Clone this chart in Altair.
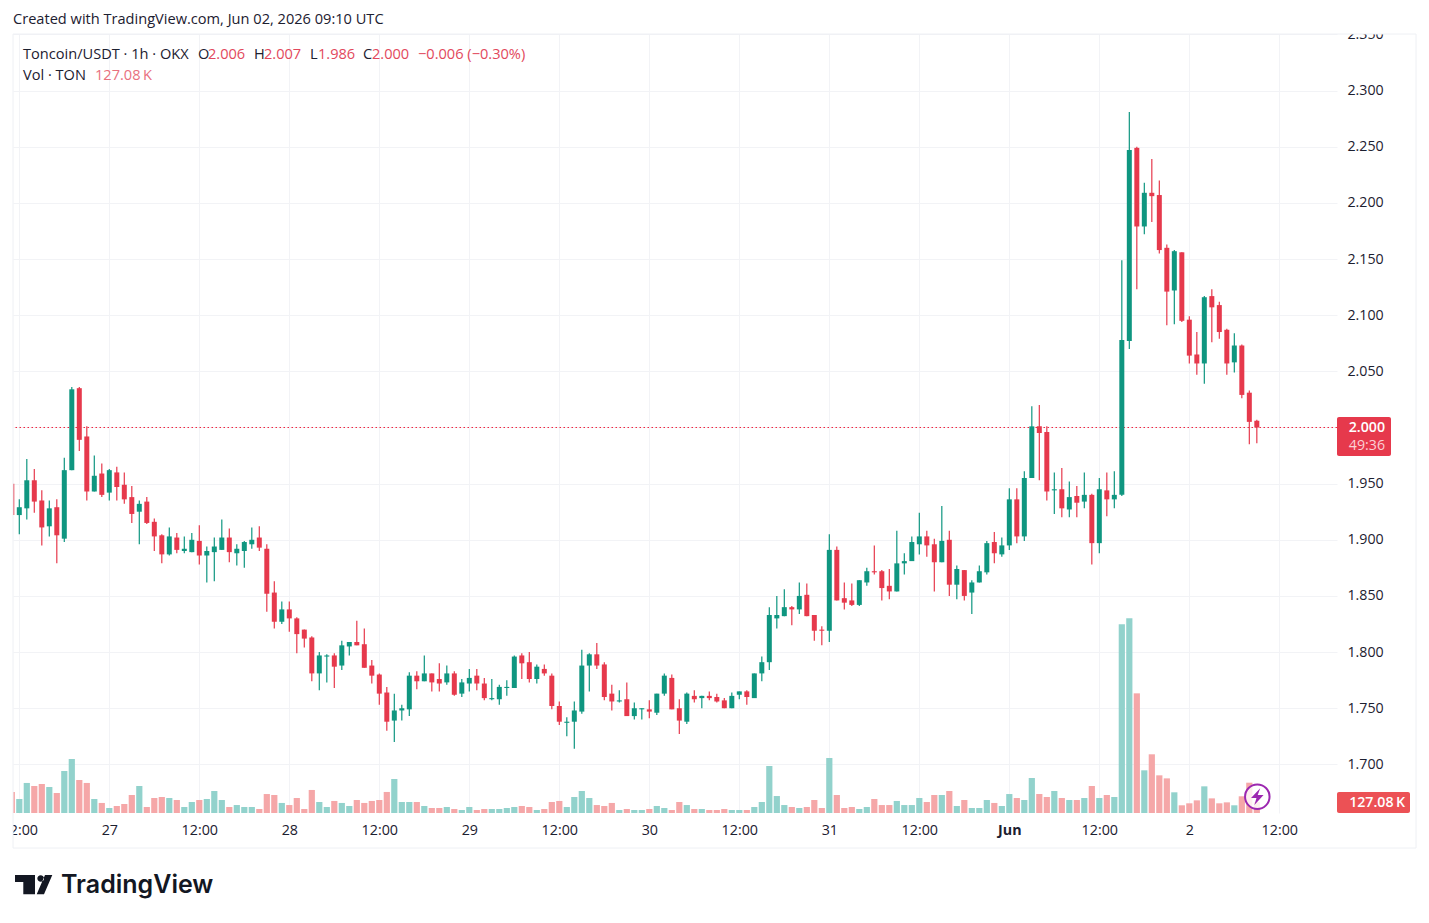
import altair as alt
import pandas as pd

# ---- chart values (hours counted from 27 May 00:00) ----
opens = [
1.950,1.922,1.928,1.953,1.935,1.912,1.929,1.901,1.962,2.035,
1.992,1.943,1.959,1.942,1.960,1.949,1.938,1.925,1.934,1.916,
1.904,1.887,1.902,1.890,1.889,1.899,1.886,1.889,1.891,1.902,
1.888,1.890,1.896,1.902,1.892,1.853,1.827,1.838,1.830,1.820,
1.813,1.781,1.796,1.797,1.788,1.805,1.809,1.807,1.788,1.780,
1.764,1.739,1.748,1.749,1.779,1.774,1.781,1.776,1.773,1.781,
1.763,1.772,1.779,1.772,1.758,1.758,1.768,1.768,1.797,1.791,
1.776,1.785,1.779,1.752,1.737,1.738,1.747,1.788,1.798,1.789,
1.763,1.756,1.758,1.743,1.749,1.749,1.746,1.763,1.777,1.750,
1.738,1.761,1.759,1.761,1.760,1.757,1.750,1.762,1.765,1.759,
1.781,1.791,1.830,1.832,1.840,1.838,1.851,1.833,1.820,1.819,
1.891,1.848,1.846,1.842,1.862,1.872,1.872,1.859,1.854,1.879,
1.881,1.896,1.903,1.896,1.880,1.900,1.860,1.873,1.853,1.862,
1.871,1.898,1.887,1.895,1.936,1.903,1.955,2.001,1.996,1.944,
1.945,1.927,1.939,1.934,1.940,1.897,1.944,1.936,1.940,2.077,
2.249,2.179,2.209,2.207,2.160,2.122,2.156,2.096,2.065,2.057,
2.117,2.109,2.087,2.058,2.073,2.031,2.006]
highs = [
1.951,1.936,1.972,1.963,1.944,1.935,1.936,1.973,2.036,2.036,
2.001,1.975,1.968,1.963,1.965,1.960,1.948,1.935,1.938,1.919,
1.905,1.911,1.906,1.903,1.906,1.913,1.894,1.902,1.918,1.910,
1.896,1.899,1.911,1.912,1.896,1.863,1.845,1.845,1.831,1.820,
1.814,1.800,1.798,1.799,1.810,1.809,1.828,1.821,1.793,1.781,
1.769,1.763,1.753,1.782,1.783,1.797,1.781,1.790,1.788,1.783,
1.776,1.785,1.785,1.777,1.776,1.771,1.775,1.797,1.799,1.800,
1.789,1.789,1.781,1.756,1.742,1.756,1.802,1.799,1.808,1.791,
1.771,1.766,1.773,1.755,1.750,1.757,1.763,1.781,1.780,1.758,
1.764,1.766,1.761,1.765,1.763,1.759,1.764,1.765,1.766,1.781,
1.796,1.840,1.850,1.856,1.841,1.862,1.861,1.833,1.823,1.905,
1.894,1.862,1.861,1.864,1.875,1.895,1.873,1.874,1.908,1.888,
1.903,1.924,1.908,1.901,1.930,1.908,1.877,1.873,1.864,1.877,
1.899,1.907,1.902,1.946,1.946,1.961,2.019,2.020,2.001,1.960,
1.964,1.952,1.948,1.960,1.941,1.955,1.960,1.961,2.149,2.281,
2.250,2.218,2.239,2.220,2.163,2.158,2.156,2.099,2.085,2.117,
2.123,2.112,2.088,2.084,2.074,2.033,2.007]
lows = [
1.922,1.905,1.918,1.924,1.895,1.903,1.879,1.898,1.962,1.979,
1.935,1.943,1.938,1.935,1.935,1.932,1.915,1.896,1.914,1.890,
1.879,1.886,1.888,1.888,1.889,1.878,1.862,1.863,1.891,1.880,
1.877,1.875,1.892,1.890,1.836,1.821,1.825,1.818,1.799,1.804,
1.774,1.766,1.773,1.768,1.784,1.797,1.806,1.786,1.772,1.753,
1.730,1.720,1.739,1.743,1.767,1.774,1.765,1.765,1.771,1.761,
1.760,1.765,1.766,1.757,1.757,1.753,1.761,1.768,1.776,1.773,
1.772,1.779,1.749,1.735,1.725,1.714,1.745,1.765,1.785,1.757,
1.748,1.755,1.743,1.740,1.740,1.741,1.744,1.761,1.749,1.727,
1.736,1.755,1.750,1.757,1.755,1.750,1.750,1.758,1.753,1.759,
1.774,1.784,1.821,1.832,1.824,1.834,1.832,1.810,1.806,1.809,
1.846,1.838,1.841,1.841,1.859,1.869,1.846,1.847,1.854,1.869,
1.881,1.887,1.885,1.854,1.880,1.850,1.847,1.846,1.834,1.862,
1.869,1.879,1.885,1.891,1.897,1.899,1.955,1.953,1.935,1.923,
1.920,1.920,1.920,1.928,1.878,1.888,1.921,1.928,1.939,2.070,
2.123,2.172,2.183,2.155,2.091,2.092,2.094,2.057,2.047,2.039,
2.076,2.079,2.047,2.049,2.026,1.985,1.986]
closes = [
1.922,1.929,1.953,1.934,1.911,1.928,1.904,1.962,2.034,1.989,
1.943,1.957,1.940,1.962,1.947,1.936,1.923,1.932,1.915,1.903,
1.887,1.903,1.891,1.892,1.900,1.886,1.890,1.894,1.902,1.889,
1.892,1.898,1.900,1.893,1.852,1.827,1.838,1.830,1.816,1.812,
1.781,1.797,1.797,1.787,1.806,1.809,1.806,1.786,1.779,1.763,
1.738,1.748,1.750,1.779,1.774,1.781,1.773,1.772,1.781,1.762,
1.773,1.777,1.772,1.759,1.759,1.769,1.769,1.796,1.790,1.776,
1.787,1.781,1.752,1.738,1.738,1.748,1.788,1.798,1.788,1.760,
1.756,1.757,1.743,1.750,1.750,1.747,1.763,1.779,1.749,1.739,
1.763,1.758,1.761,1.759,1.756,1.750,1.761,1.765,1.760,1.781,
1.791,1.833,1.833,1.840,1.838,1.850,1.832,1.819,1.819,1.891,
1.846,1.844,1.842,1.864,1.872,1.871,1.857,1.854,1.879,1.881,
1.898,1.903,1.895,1.880,1.899,1.860,1.874,1.850,1.862,1.872,
1.897,1.888,1.895,1.936,1.903,1.955,2.001,1.995,1.943,1.945,
1.928,1.938,1.933,1.940,1.897,1.945,1.936,1.940,2.078,2.247,
2.179,2.209,2.206,2.158,2.121,2.157,2.095,2.064,2.057,2.116,
2.107,2.085,2.057,2.073,2.029,2.005,2.000]
volumes_k = [
243,162,347,312,335,300,231,485,624,381,
347,162,116,58,81,104,208,312,69,173,
185,173,150,69,127,150,162,254,150,69,
92,69,69,46,219,208,116,92,173,46,
266,127,69,139,116,81,150,116,139,150,
243,393,127,127,127,81,58,58,69,46,
35,69,35,46,46,46,58,69,81,69,
35,46,127,139,69,185,254,173,92,81,
116,35,46,35,35,46,81,58,35,127,
92,46,46,35,35,46,35,35,35,69,
127,543,196,92,69,58,69,150,58,635,
208,58,69,46,69,162,92,92,139,92,
92,173,127,208,208,254,81,150,58,58,
150,116,81,219,173,150,404,219,185,254,
173,150,150,173,312,173,208,185,2179,2248,
1382,493,678,435,400,239,89,112,146,308,
169,112,123,89,193,350,127.08]
first_hour = -13

x_tick_values = [-12, 0, 12, 24, 36, 48, 60, 72, 84, 96, 108, 120, 132, 144, 156]
x_tick_labels = ["12:00", "27", "12:00", "28", "12:00", "29", "12:00", "30",
                 "12:00", "31", "12:00", "Jun", "12:00", "2", "12:00"]
y_tick_values = [1.70, 1.75, 1.80, 1.85, 1.90, 1.95, 2.00, 2.05, 2.10, 2.15,
                 2.20, 2.25, 2.30, 2.35]

# ---- styling ----
GREEN, RED = "#0f9680", "#e6394c"
VGREEN, VRED = "#92d2cc", "#f5a7a8"
GRID, BORDER = "#f2f3f6", "#eef0f4"
INK = "#1c2030"
FONT = "Open Sans"
HS = 14.6

df = pd.DataFrame({"hour": [first_hour + i for i in range(len(opens))],
                   "open": opens, "high": highs, "low": lows, "close": closes,
                   "vol": volumes_k})
df["dir"] = ["up" if c >= o else "down" for o, c in zip(opens, closes)]

xs = alt.Scale(domain=[-12.84, 163.69], nice=False, zero=False, padding=0)
ys = alt.Scale(domain=[1.6567, 2.3504], nice=False, zero=False, padding=0)
vs = alt.Scale(domain=[0, 8997], nice=False, padding=0)
label_expr = "[" + ",".join(f"'{t}'" for t in x_tick_labels) + "][(datum.value+12)/12]"
jun_hour = x_tick_values[x_tick_labels.index("Jun")]
xaxis = alt.Axis(values=x_tick_values, labelExpr=label_expr, grid=True, gridColor=GRID,
                 gridWidth=1, domain=False, ticks=False, title=None, labelPadding=10,
                 labelFont=FONT, labelFontSize=14.3, labelColor=INK, labelOverlap=False,
                 labelFlush=False, labelBound=False,
                 labelFontWeight={"expr": f"datum.value == {jun_hour} ? 700 : 400"})
yaxis = alt.Axis(values=y_tick_values, format=".3f", grid=True, gridColor=GRID, gridWidth=1,
                 domain=False, ticks=False, title=None, orient="right", labelPadding=10,
                 labelFont=FONT, labelFontSize=14.2, labelColor=INK, labelOverlap=False,
                 labelFlush=False, labelBound=False)
X = alt.X("hour:Q", scale=xs, axis=xaxis)


def dir_color(up, down):
    return alt.Color("dir:N", scale=alt.Scale(domain=["up", "down"], range=[up, down]), legend=None)


base = alt.Chart(df)
vol = base.mark_bar(orient="vertical", size=6.2, clip=True).encode(
    x=X, y=alt.Y("vol:Q", scale=vs, axis=None), color=dir_color(VGREEN, VRED))
last = alt.Chart(pd.DataFrame({"p": [closes[-1]]})).mark_rule(
    stroke="#f0243f", strokeDash=[1.5, 2.5], strokeWidth=1, opacity=1).encode(
    y=alt.Y("p:Q", scale=ys, axis=None))
wick = base.mark_rule(strokeWidth=1.2, clip=True).encode(
    x=X, y=alt.Y("low:Q", scale=ys, axis=yaxis), y2="high:Q", color=dir_color(GREEN, RED))
body = base.mark_bar(orient="vertical", size=5, clip=True).encode(
    x=X, y=alt.Y("open:Q", scale=ys, axis=None), y2="close:Q", color=dir_color(GREEN, RED))


def px_x(v):
    return alt.value(v - 13)


def px_y(v):
    return alt.value(v - 34)


one = pd.DataFrame({"a": [1]})


def box(x0, x1, y0, y1, color, **kw):
    return alt.Chart(one).mark_rect(color=color, **kw).encode(
        x=px_x(x0), x2=px_x(x1), y=px_y(y0), y2=px_y(y1))


def line(x0, x1, y0, y1, color=BORDER, width=1):
    return alt.Chart(one).mark_rule(color=color, strokeWidth=width).encode(
        x=px_x(x0), x2=px_x(x1), y=px_y(y0), y2=px_y(y1))


def text(x, y, s, color=INK, size=HS, align="left", weight=400, font=FONT, opacity=1):
    return alt.Chart(pd.DataFrame({"t": [s]})).mark_text(
        align=align, baseline="middle", color=color, fontSize=size, fontWeight=weight,
        font=font, opacity=opacity).encode(text="t:N", x=px_x(x), y=px_y(y))


def glyph(x, y, path, size, color):
    return alt.Chart(one).mark_point(shape=path, size=size, filled=True, color=color,
                                     opacity=1, strokeWidth=0).encode(x=px_x(x), y=px_y(y))


LOGO = ("M-1,-0.515 L0.073,-0.515 L0.073,0.52 L-0.555,0.52 L-0.555,-0.14 L-1,-0.14 Z "
        "M0.609,-0.515 L1,-0.515 L0.555,0.52 L0.164,0.52 Z "
        "M0.198,-0.327 a0.18,0.18 0 1,0 0.36,0 a0.18,0.18 0 1,0 -0.36,0 Z")
BOLT = "M0.35,-1 L-0.75,0.15 L-0.1,0.15 L-0.35,1 L0.75,-0.2 L0.05,-0.2 Z"
VAL = "#e2485c"

layers = [
    vol, last, wick, body,
    # masks that cut the axis labels at the pane edges
    box(1337, 1421, 0, 34, "white"),
    box(0, 13, 815, 845, "white"),
    # pane border
    line(13, 1416, 34, 34), line(13, 1416, 848, 848),
    line(13, 13, 34, 848), line(1416, 1416, 34, 848),
    # last price and last volume tags
    box(1337, 1391, 417, 456, RED, cornerRadius=2),
    text(1385, 427.5, "2.000", "white", 14.2, "right", 600),
    text(1385, 446, "49:36", "#fbd0d5", 14.2, "right"),
    box(1337, 1410, 792, 813, "#ec5155", cornerRadius=2),
    text(1405, 802.5, "127.08\u2009K", "white", 14.2, "right", 600),
    # lightning badge
    alt.Chart(one).mark_point(shape="circle", size=600, filled=True, fill="white", fillOpacity=0.8,
                              stroke="#9c27b0", strokeWidth=2, opacity=1).encode(
        x=px_x(1257.3), y=px_y(796.7)),
    glyph(1257.3, 796.7, BOLT, 280, "#9c27b0"),
    # headers
    text(13, 20, "Created with TradingView.com, Jun 02, 2026 09:10 UTC"),
    text(23, 55, "Toncoin/USDT \u00b7 1h \u00b7 OKX"),
    text(198, 55, "O"), text(208, 55, "2.006", VAL),
    text(254, 55, "H"), text(264, 55, "2.007", VAL),
    text(310, 55, "L"), text(318, 55, "1.986", VAL),
    text(363, 55, "C"), text(372, 55, "2.000", VAL),
    text(418, 55, "\u22120.006 (\u22120.30%)", VAL),
    text(23, 76, "Vol \u00b7 TON"),
    text(95, 76, "127.08\u2009K", "#e8707e"),
    # logo
    glyph(33.65, 884.6, LOGO, 1391, "#131722"),
    text(61, 885, "TradingView", "#131722", 25, "left", 600, "Inter"),
]

chart = alt.layer(*layers).resolve_scale(y="independent", color="independent").properties(
    width=1324, height=779,
    padding={"left": 5, "top": 26, "right": 84, "bottom": 100},
    autosize=alt.AutoSizeParams(type="none"),
    background="white",
).configure_view(stroke=None)

chart.save("out.html", embed_options={"renderer": "svg", "actions": False})
